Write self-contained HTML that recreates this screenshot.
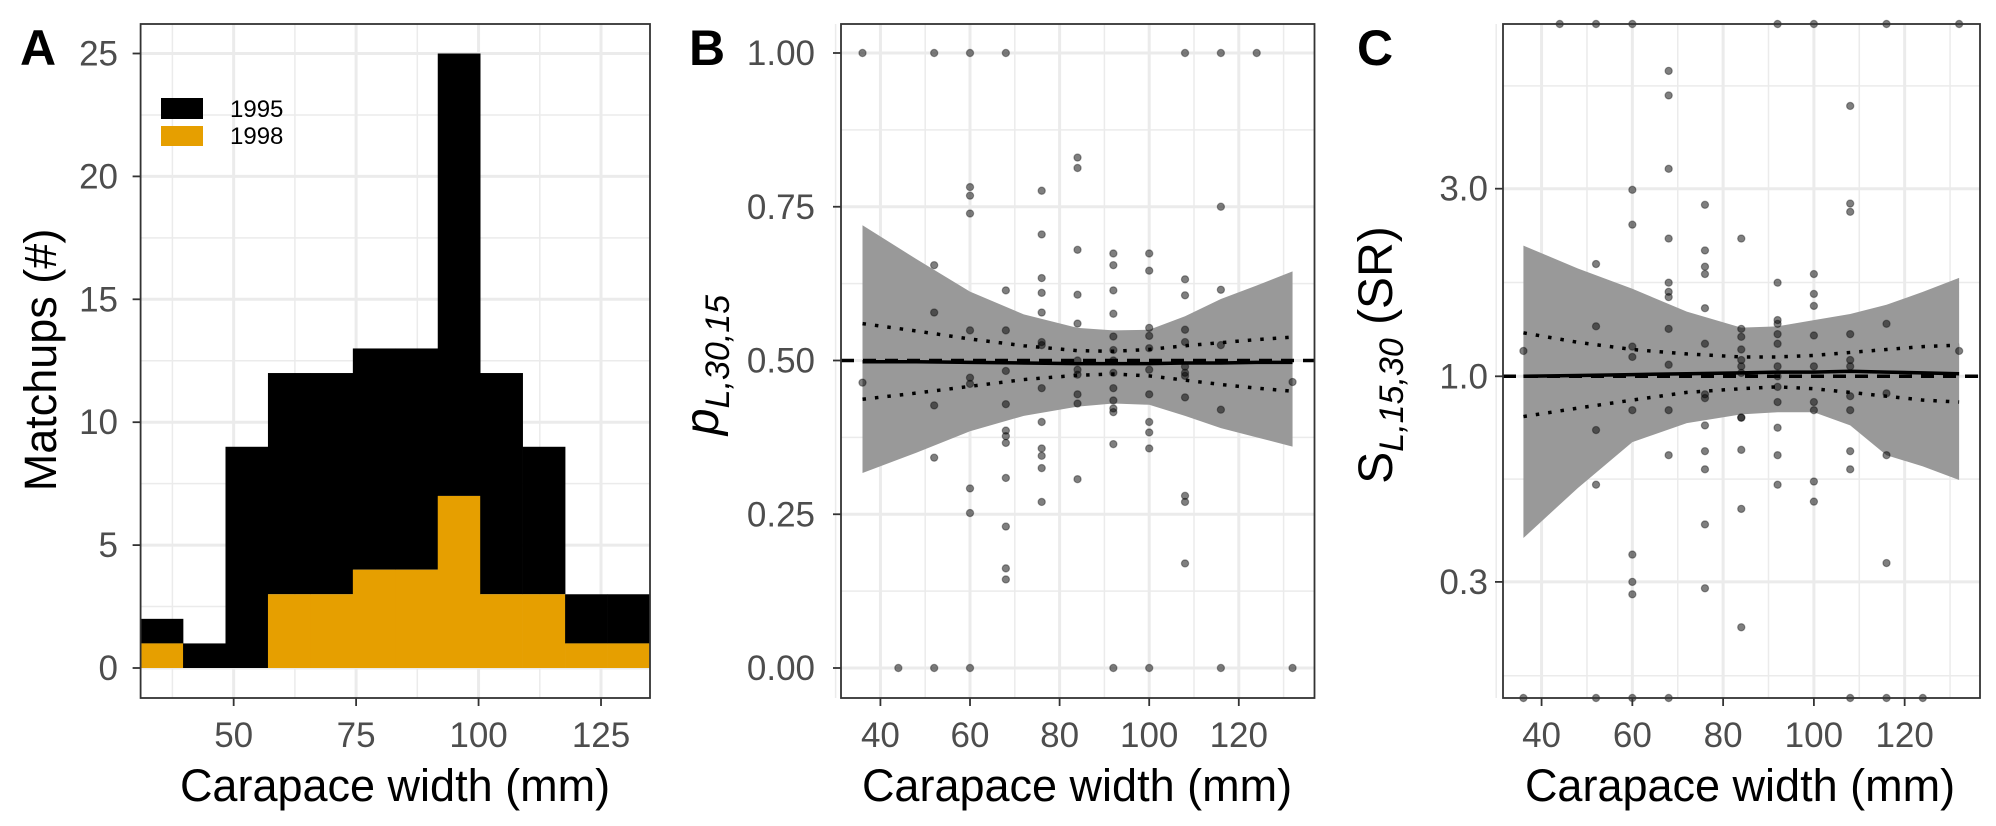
<!DOCTYPE html>
<html><head><meta charset="utf-8"><style>
html,body{margin:0;padding:0;background:#fff;}
svg{display:block;font-family:"Liberation Sans",sans-serif;}
</style></head><body>
<svg id="fig" width="1996" height="826" viewBox="0 0 1996 826" xmlns="http://www.w3.org/2000/svg"></svg>
<script>
// ---------- Panel A data ----------
const binEdgesA = [31, 39.667, 48.333, 57, 65.667, 74.333, 83, 91.667, 100.333, 109, 117.667, 126.333, 135];
const total1995 = [2, 1, 9, 12, 12, 13, 13, 25, 12, 9, 3, 3];
const count1998 = [1, 0, 0, 3, 3, 4, 4, 7, 3, 3, 1, 1];
const xTicksA = [50, 75, 100, 125];
const yTicksA = [0, 5, 10, 15, 20, 25];
// ---------- Panel B data ----------
const ptsBx = [36,36,44,52,52,52,52,52,52,60,60,60,60,60,60,60,60,60,60,68,68,68,68,68,68,68,68,68,68,68,68,76,76,76,76,76,76,76,76,76,76,76,76,76,84,84,84,84,84,84,84,84,84,84,84,92,92,92,92,92,92,92,92,92,92,92,92,92,92,100,100,100,100,100,100,100,100,100,100,100,108,108,108,108,108,108,108,108,108,108,108,108,116,116,116,116,116,116,124,132,132];
const ptsBy = [1,0.464,0,1,0.655,0.578,0.427,0.342,0,1,0.782,0.768,0.739,0.549,0.472,0.462,0.292,0.252,0,1,0.614,0.549,0.483,0.429,0.386,0.377,0.366,0.309,0.23,0.162,0.144,0.776,0.705,0.634,0.61,0.578,0.53,0.525,0.455,0.40,0.357,0.345,0.325,0.27,0.83,0.813,0.68,0.607,0.56,0.50,0.485,0.477,0.445,0.43,0.307,0.674,0.655,0.614,0.576,0.539,0.517,0.50,0.48,0.455,0.435,0.422,0.416,0.364,0,0.674,0.646,0.553,0.54,0.52,0.485,0.445,0.40,0.383,0.357,0,1,0.632,0.606,0.55,0.53,0.49,0.48,0.475,0.44,0.28,0.27,0.17,1,0.75,0.615,0.525,0.42,0,1,0.465,0];
const bandX = [36, 48, 60, 72, 84, 92, 100, 108, 116, 124, 132];
const bandBhi = [0.72, 0.665, 0.612, 0.575, 0.553, 0.549, 0.55, 0.572, 0.60, 0.622, 0.645];
const bandBlo = [0.317, 0.35, 0.385, 0.41, 0.425, 0.43, 0.428, 0.41, 0.39, 0.375, 0.36];
const fitB = [0.498, 0.498, 0.497, 0.496, 0.495, 0.495, 0.495, 0.496, 0.496, 0.497, 0.497];
const dotBhi = [0.56, 0.548, 0.535, 0.524, 0.516, 0.515, 0.518, 0.524, 0.529, 0.534, 0.538];
const dotBlo = [0.437, 0.447, 0.458, 0.469, 0.476, 0.478, 0.475, 0.468, 0.461, 0.455, 0.45];
const xTicksB = [40, 60, 80, 100, 120];
const yTicksB = [0, 0.25, 0.5, 0.75, 1];
const yTickLabelsB = ["0.00", "0.25", "0.50", "0.75", "1.00"];
// ---------- Panel C data ----------
const ptsCx = [36,36,44,52,52,52,52,52,52,60,60,60,60,60,60,60,60,60,60,68,68,68,68,68,68,68,68,68,68,68,68,76,76,76,76,76,76,76,76,76,76,76,76,76,84,84,84,84,84,84,84,84,84,84,84,84,92,92,92,92,92,92,92,92,92,92,92,92,92,100,100,100,100,100,100,100,100,100,100,108,108,108,108,108,108,108,108,108,108,108,116,116,116,116,116,116,124,132,132];
const ptsCy = [1.16,0.1,10,10,1.93,1.34,0.73,0.53,0.1,10,2.98,2.43,1.19,1.12,0.82,0.352,0.30,0.279,0.1,5.98,5.18,3.37,2.24,1.73,1.64,1.59,1.32,1.07,0.82,0.63,0.1,2.73,2.09,1.90,1.82,1.49,1.21,0.90,0.88,0.75,0.645,0.58,0.42,0.289,2.24,1.32,1.26,1.17,1.10,1.06,1.02,0.785,0.785,0.65,0.46,0.23,10,1.73,1.39,1.36,1.28,1.21,1.06,1.0,0.94,0.86,0.74,0.63,0.53,10,1.82,1.62,1.51,1.27,1.06,0.86,0.82,0.54,0.48,4.87,2.75,2.62,1.28,1.10,1.06,0.89,0.82,0.645,0.58,0.1,10,1.36,0.905,0.63,0.335,0.1,0.1,10,1.16];
const bandChi = [2.15, 1.88, 1.67, 1.46, 1.33, 1.34, 1.39, 1.44, 1.52, 1.64, 1.78];
const bandClo = [0.388, 0.52, 0.68, 0.76, 0.80, 0.81, 0.81, 0.75, 0.63, 0.59, 0.545];
const fitC = [1.00, 1.005, 1.01, 1.015, 1.02, 1.025, 1.025, 1.03, 1.025, 1.02, 1.015];
const dotChi = [1.29, 1.22, 1.17, 1.14, 1.12, 1.12, 1.13, 1.15, 1.17, 1.19, 1.20];
const dotClo = [0.79, 0.83, 0.87, 0.91, 0.93, 0.94, 0.93, 0.91, 0.89, 0.87, 0.86];
const xTicksC = [40, 60, 80, 100, 120];
const yTicksC = [0.3, 1.0, 3.0];
const yTickLabelsC = ["0.3", "1.0", "3.0"];
const yMinorC = [0.1732, 0.5477, 1.732, 5.477];

const NS = "http://www.w3.org/2000/svg";
const svg = document.getElementById('fig');
function mk(tag, attrs, parent, text){
  const e = document.createElementNS(NS, tag);
  for (const k in attrs) e.setAttribute(k, attrs[k]);
  if (text !== undefined) e.textContent = text;
  (parent || svg).appendChild(e);
  return e;
}
function lin(d0,d1,r0,r1){ return v => r0 + (v-d0)/(d1-d0)*(r1-r0); }
function logS(d0,d1,r0,r1){ const a=Math.log10(d0), b=Math.log10(d1); return v => r0 + (Math.log10(v)-a)/(b-a)*(r1-r0); }

function frame(g, L, T, R, B){
  mk('rect',{x:L,y:T,width:R-L,height:B-T,fill:'none',stroke:'#333',"stroke-width":1.8},g);
}
function gridV(g, xs, T, B, w){ xs.forEach(v=>{ const l=mk('line',{x1:v,x2:v,y1:T,y2:B,stroke:'#ebebeb',"stroke-width":w},g);   }); }
function gridH(g, ys, L, R, w){ ys.forEach(v=>{ const l=mk('line',{x1:L,x2:R,y1:v,y2:v,stroke:'#ebebeb',"stroke-width":w},g);   }); }
function xTicks(g, vals, labels, sx, B){
  vals.forEach((v,i)=>{
    mk('line',{x1:sx(v),x2:sx(v),y1:B,y2:B+8,stroke:'#333',"stroke-width":1.8},g);
    const t = mk('text',{x:sx(v),y:747,"text-anchor":"middle","font-size":35,fill:'#4d4d4d'},g,labels[i]);
    
    
  });
}
function yTicks(g, vals, labels, sy, L, xr){
  vals.forEach((v,i)=>{
    mk('line',{x1:L-8,x2:L,y1:sy(v),y2:sy(v),stroke:'#333',"stroke-width":1.8},g);
    const t = mk('text',{x:xr,y:sy(v)+12,"text-anchor":"end","font-size":35,fill:'#4d4d4d'},g,labels[i]);
    
    
  });
}
function xTitle(g, cx){
  const t = mk('text',{x:cx,y:801,"text-anchor":"middle","font-size":45,fill:'#000'},g,'Carapace width (mm)');
  
  
}
function letter(g, x, s){
  const t = mk('text',{x:x,y:65,"font-size":50,"font-weight":"bold",fill:'#000'},g,s);
  
  
}

// ================= Panel A =================
(function(){
  const g = mk('g',{});  
  const L=140.6,R=650,T=24,B=698;
  const sx = lin(31,135,L,R), sy = lin(0,25,668,53.5);
  const clip = mk('clipPath',{id:'clipA'},g); mk('rect',{x:L,y:T,width:R-L,height:B-T},clip);
  gridV(g, [37.5,62.5,87.5,112.5].map(sx), T, B, 1.5);
  gridH(g, [2.5,7.5,12.5,17.5,22.5].map(sy), L, R, 1.5);
  gridV(g, xTicksA.map(sx), T, B, 3);
  gridH(g, yTicksA.map(sy), L, R, 3);
  const bars = mk('g',{"clip-path":"url(#clipA)"},g);
  for (let i=0;i<total1995.length;i++){
    const x0=sx(binEdgesA[i]), x1=sx(binEdgesA[i+1]);
    const r1 = mk('rect',{x:x0,y:sy(total1995[i]),width:x1-x0+0.3,height:sy(count1998[i])-sy(total1995[i]),fill:'#000'},bars);
    
    
    if (count1998[i]>0){
      const r2 = mk('rect',{x:x0,y:sy(count1998[i]),width:x1-x0+0.3,height:sy(0)-sy(count1998[i]),fill:'#E69F00'},bars);
      
      
    }
  }
  frame(g,L,T,R,B);
  xTicks(g, xTicksA, xTicksA.map(String), sx, B);
  yTicks(g, yTicksA, yTicksA.map(String), sy, L, 118);
  xTitle(g, 395);
  const yt = mk('text',{x:0,y:0,"text-anchor":"middle","font-size":45,fill:'#000',transform:'translate(56,360) rotate(-90)'},g,'Matchups (#)');
   
  letter(g, 20, 'A');
  const lg = mk('g',{},g);  
  const e1 = mk('g',{},lg);  
  mk('rect',{x:161,y:98,width:42,height:21,fill:'#000'},e1);
  mk('text',{x:230,y:117,"font-size":24,fill:'#000'},e1,'1995');
  const e2 = mk('g',{},lg);  
  mk('rect',{x:161,y:126,width:42,height:20,fill:'#E69F00'},e2);
  mk('text',{x:230,y:144,"font-size":24,fill:'#000'},e2,'1998');
})();

function scatterPanel(opts){
  const g = mk('g',{});  
  const {L,R,T,B,sx,sy} = opts;
  gridV(g, opts.xMinor.map(sx), T, B, 1.5);
  gridH(g, opts.yMinor.map(sy), L, R, 1.5);
  gridV(g, opts.xTicks.map(sx), T, B, 3);
  gridH(g, opts.yTicks.map(sy), L, R, 3);
  const cid = 'clip'+opts.name;
  const clip = mk('clipPath',{id:cid},g); mk('rect',{x:L,y:T,width:R-L,height:B-T},clip);
  const inner = mk('g',{"clip-path":`url(#${cid})`},g);
  let d = '';
  opts.bx.forEach((x,i)=>{ d += (i?'L':'M')+sx(x)+','+sy(opts.hi[i]); });
  for (let i=opts.bx.length-1;i>=0;i--) d += 'L'+sx(opts.bx[i])+','+sy(opts.lo[i]);
  const band = mk('path',{d:d+'Z',fill:'#999999'},inner);
   
  const ref = mk('line',{x1:L,x2:R,y1:sy(opts.ref),y2:sy(opts.ref),stroke:'#000',"stroke-width":3.5,"stroke-dasharray":"13 9"},inner);
   
  const ln = (arr)=>opts.bx.map((x,i)=>(i?'L':'M')+sx(x)+','+sy(arr[i])).join('');
  const f = mk('path',{d:ln(opts.fit),fill:'none',stroke:'#000',"stroke-width":3.5},inner);
   
  const u = mk('path',{d:ln(opts.dhi),fill:'none',stroke:'#000',"stroke-width":3.5,"stroke-dasharray":"3.5 9"},inner);
   
  const lo = mk('path',{d:ln(opts.dlo),fill:'none',stroke:'#000',"stroke-width":3.5,"stroke-dasharray":"3.5 9"},inner);
   
  const pg = mk('g',{},g);  
  opts.px.forEach((x,i)=>{
    let y = sy(Math.min(Math.max(opts.py[i],opts.yLo),opts.yHi));
    const c = mk('circle',{cx:sx(x),cy:y,r:3.6,fill:'rgba(0,0,0,0.5)',stroke:'rgba(0,0,0,0.35)',"stroke-width":1.2},pg);
    
    
  });
  frame(g,L,T,R,B);
  xTicks(g, opts.xTicks, opts.xTicks.map(String), sx, B);
  yTicks(g, opts.yTicks, opts.yLabels, sy, L, opts.ylabX);
  xTitle(g, opts.xtitleX);
  letter(g, opts.letterX, opts.letter);
  return g;
}

// ================= Panel B =================
(function(){
  const L=841,R=1314.5,T=24,B=698;
  const g = scatterPanel({name:'panel-b',L,R,T,B,sx:lin(31.2,136.9,L,R),sy:lin(0,1,668,53),
    xMinor:[30,50,70,90,110,130],yMinor:[0.125,0.375,0.625,0.875],xTicks:xTicksB,yTicks:yTicksB,yLabels:yTickLabelsB,
    bx:bandX,hi:bandBhi,lo:bandBlo,fit:fitB,dhi:dotBhi,dlo:dotBlo,ref:0.5,px:ptsBx,py:ptsBy,yLo:-1,yHi:2,
    ylabX:815,xtitleX:1077,letterX:689,letter:'B'});
  const yt = mk('text',{x:0,y:0,"text-anchor":"middle",fill:'#000',transform:'translate(718,365) rotate(-90)'},g);
   
  mk('tspan',{"font-size":48,"font-style":"italic"},yt,'p');
  mk('tspan',{"font-size":34,"font-style":"italic",dy:11},yt,'L,30,15');
})();

// ================= Panel C =================
(function(){
  const L=1503,R=1980,T=24,B=698;
  const g = scatterPanel({name:'panel-c',L,R,T,B,sx:lin(31.5,136.6,L,R),sy:logS(0.152,7.87,698,24),
    xMinor:[30,50,70,90,110,130],yMinor:yMinorC,xTicks:xTicksC,yTicks:yTicksC,yLabels:yTickLabelsC,
    bx:bandX,hi:bandChi,lo:bandClo,fit:fitC,dhi:dotChi,dlo:dotClo,ref:1.0,px:ptsCx,py:ptsCy,yLo:0.152,yHi:7.87,
    ylabX:1488,xtitleX:1740,letterX:1357,letter:'C'});
  const yt = mk('text',{x:0,y:0,"text-anchor":"middle",fill:'#000',transform:'translate(1392,355) rotate(-90)'},g);
   
  mk('tspan',{"font-size":48},yt,'S');
  mk('tspan',{"font-size":34,"font-style":"italic",dy:11},yt,'L,15,30');
  mk('tspan',{"font-size":48,dy:-11},yt,' (SR)');
})();
</script>
</body></html>
